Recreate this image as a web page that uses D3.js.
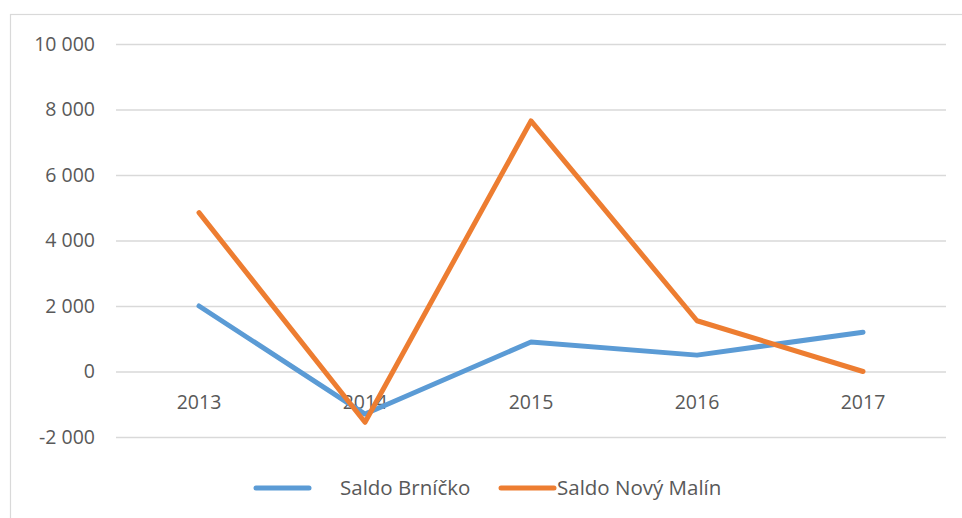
<!DOCTYPE html>
<html>
<head>
<meta charset="utf-8">
<script src="https://cdn.jsdelivr.net/npm/d3@7"></script>
<style>
  body { margin: 0; background: #fff; }
  text { font-family: "Open Sans", "Liberation Sans", sans-serif; fill: #595959; }
</style>
</head>
<body>
<svg id="svg1" width="962" height="518"></svg>
<script>
var years = ["2013", "2014", "2015", "2016", "2017"];
var brnicko = [2000, -1300, 900, 500, 1200];      // Saldo Brníčko
var novyMalin = [4850, -1550, 7650, 1550, 0];     // Saldo Nový Malín
var yTicks = [-2000, 0, 2000, 4000, 6000, 8000, 10000];
var seriesNames = ["Saldo Brníčko", "Saldo Nový Malín"];
var colors = ["#5B9BD5", "#ED7D31"];

var svg = d3.select("#svg1");
var fontSize = 19.5;

// chart frame
svg.append("rect")
    .attr("x", 10.5).attr("y", 14.5)
    .attr("width", 960).attr("height", 520)
    .attr("fill", "none")
    .attr("stroke", "#D9D9D9")
    .attr("stroke-width", 1.2);

var x = d3.scaleBand().domain(years).range([116, 946]);
var y = d3.scaleLinear().domain([-2000, 10000]).range([437, 44]);

// "10 000", "-2 000" style
var fmt = function(d) { return d3.format(",")(d).replace(/,/g, " ").replace("\u2212", "-"); };

// gridlines + y labels
var yAxis = d3.axisLeft(y).tickValues(yTicks).tickSize(-(946 - 116)).tickPadding(21).tickFormat(fmt);
var gy = svg.append("g").attr("transform", "translate(116,0)").call(yAxis);
gy.select(".domain").remove();
gy.selectAll("line").attr("stroke", "#D9D9D9").attr("stroke-width", 1.3);
gy.selectAll("text").attr("font-size", fontSize).attr("fill", "#595959")
    .style("font-family", "'Open Sans', sans-serif");

// x labels sit just under the zero line
var xAxis = d3.axisBottom(x).tickSize(0).tickPadding(24);
var gx = svg.append("g").attr("transform", "translate(0," + y(0) + ")").call(xAxis);
gx.select(".domain").remove();
gx.selectAll("text").attr("font-size", fontSize).attr("fill", "#595959")
    .style("font-family", "'Open Sans', sans-serif");

var line = d3.line()
    .x(function(d, i) { return x(years[i]) + x.bandwidth() / 2; })
    .y(function(d) { return y(d); });

[brnicko, novyMalin].forEach(function(s, k) {
    svg.append("path")
        .datum(s)
        .attr("d", line)
        .attr("fill", "none")
        .attr("stroke", colors[k])
        .attr("stroke-width", 5)
        .attr("stroke-linecap", "round")
        .attr("stroke-linejoin", "round");
});

// legend
var legendX = [256, 501];
var textX = [340, 557];
seriesNames.forEach(function(name, k) {
    svg.append("line")
        .attr("x1", legendX[k]).attr("x2", legendX[k] + 53)
        .attr("y1", 488).attr("y2", 488)
        .attr("stroke", colors[k])
        .attr("stroke-width", 5)
        .attr("stroke-linecap", "round");
    svg.append("text")
        .attr("x", textX[k]).attr("y", 495)
        .attr("font-size", 20.5)
        .text(name);
});
</script>
</body>
</html>
